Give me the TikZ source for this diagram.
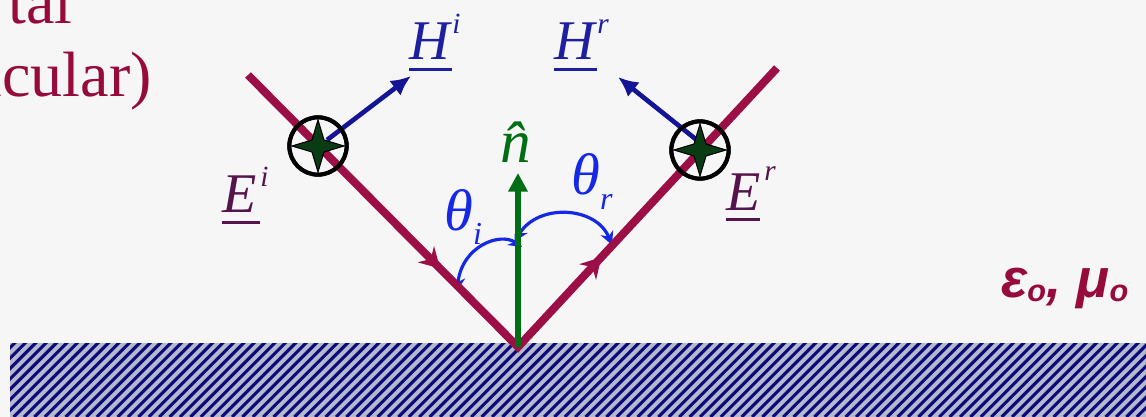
\documentclass[tikz,border=0pt]{standalone}
\usepackage{fontspec}
\setmainfont{Liberation Serif}
\newfontfamily\sansgreek{Liberation Sans}
\usetikzlibrary{arrows.meta,decorations.markings}
\definecolor{bgc}{RGB}{246,246,246}
\definecolor{maroon}{RGB}{155,15,70}
\definecolor{titlec}{RGB}{150,10,60}
\definecolor{navyarrow}{RGB}{20,20,150}
\definecolor{hlab}{RGB}{30,30,160}
\definecolor{thetac}{RGB}{20,40,230}
\definecolor{greenc}{RGB}{0,110,20}
\definecolor{elab}{RGB}{85,20,75}
\definecolor{starc}{RGB}{10,60,20}
\definecolor{hatchbg}{RGB}{182,184,204}
\definecolor{stripec}{RGB}{10,10,125}
\newcommand\myul[1]{\setbox0\hbox{#1}\rlap{\rule[-8pt]{\wd0}{2.2pt}}\box0}
\tikzset{
  titletext/.style={text=titlec, font=\fontsize{48}{52}\selectfont, inner sep=0pt},
  beam/.style={draw=maroon, line width=6pt, line join=miter},
  hvec/.style={draw=navyarrow, line width=3.5pt, -{Latex[length=15pt,width=14pt]}},
  nvec/.style={draw=greenc, line width=3.8pt, -{Triangle[length=14pt,width=14pt]}},
  arcarrow/.style={draw=thetac, line width=2.4pt, {Stealth[length=10pt,width=10pt]}-{Stealth[length=10pt,width=10pt]}},
  ring/.style={circle, draw=black, line width=3pt, minimum size=43pt, inner sep=0pt},
  starfill/.style={fill=starc, draw=black, line width=0.8pt},
  hlabel/.style={text=hlab, font=\fontsize{42}{50}\selectfont\itshape, inner sep=0pt, anchor=base west},
  elabel/.style={text=elab, font=\fontsize{42}{50}\selectfont\itshape, inner sep=0pt, anchor=base west},
  tlabel/.style={text=thetac, font=\fontsize{44}{50}\selectfont\itshape, inner sep=0pt, anchor=base west},
  nlabel/.style={text=greenc, font=\fontsize{46}{50}\selectfont\itshape, inner sep=0pt, anchor=base west},
  medlabel/.style={text=titlec, font=\sansgreek\fontsize{41}{44}\selectfont\bfseries\itshape, inner sep=0pt, anchor=base west},
  stripe/.style={draw=stripec, line width=2.3pt},
  midarrows/.style={postaction={decorate}, decoration={markings,
    mark=at position 0.357 with {\arrow{Stealth[length=15pt,width=17pt,inset=5pt]}},
    mark=at position 0.662 with {\arrow{Stealth[length=15pt,width=17pt,inset=5pt]}}}}
}
\begin{document}
\begin{tikzpicture}[x=0.75pt,y=-0.75pt]
\useasboundingbox (0,0) rectangle (1146,417);
\fill[bgc] (0,0) rectangle (1146,417);

% title fragments (clipped at the page edge)
\begin{scope}
  \clip (0,0) rectangle (1146,417);
  \node[titletext, anchor=base east] (t1) at (73,24) {tal};
  \node[titletext, anchor=base east] (t2) at (152,97) {icular)};
\end{scope}

% hatched boundary
\fill[hatchbg] (10,343) rectangle (1146,417);
\begin{scope}
  \clip (10,343) rectangle (1146,417);
  \foreach \k in {0,...,122} { \draw[stripe] ({10.4*\k-80},417) -- ++(80,-80); }
\end{scope}

% coordinates
\coordinate (O) at (518,347);
\coordinate (Istart) at (248,75);
\coordinate (Rend) at (777,68);
\coordinate (ntip) at (518,173);
\coordinate (Hitip) at (411,76);
\coordinate (Hrtip) at (618,77);
\coordinate (ai1) at (522,247);
\coordinate (ai2) at (457,291);
\coordinate (ar1) at (515,241);
\coordinate (ar2) at (612,245);

% angle arcs
\draw[arcarrow] (ai1) .. controls (500,232) and (462,246) .. (ai2);
\draw[arcarrow] (ar1) .. controls (538,203) and (596,206) .. (ar2);

% beams
\draw[beam, midarrows] (Istart) -- (O) -- (Rend);

% normal
\draw[nvec] (O) -- (ntip);

% field symbols
\node[ring] (ci) at (318,146) {};
\node[ring] (cr) at (700,150) {};
\draw[hvec] ([shift={(9,-6)}]ci.center) -- (Hitip);
\draw[hvec] ([shift={(-2,-9)}]cr.center) -- (Hrtip);
\node[ring] at (ci.center) {};
\node[ring] at (cr.center) {};
\foreach \c in {ci,cr}{
  \filldraw[starfill] ([shift={(0,-26)}]\c.center) -- ([shift={(6,-6)}]\c.center) -- ([shift={(26,0)}]\c.center) -- ([shift={(6,6)}]\c.center) -- ([shift={(0,26)}]\c.center) -- ([shift={(-6,6)}]\c.center) -- ([shift={(-26,0)}]\c.center) -- ([shift={(-6,-6)}]\c.center) -- cycle;
}

% labels
\node[hlabel] (Hi) at (409,60) {\myul{H\kern2pt}\raisebox{20pt}{\fontsize{22}{22}\selectfont i}};
\node[hlabel] (Hr) at (554,60) {\myul{H\kern2pt}\raisebox{20pt}{\fontsize{22}{22}\selectfont r}};
\node[elabel] (Ei) at (222,213) {\myul{E\kern3pt}\raisebox{20pt}{\fontsize{22}{22}\selectfont i}};
\node[elabel] (Er) at (726,210) {\myul{E}\kern3pt\raisebox{22pt}{\fontsize{22}{22}\selectfont r}};
\node[tlabel] (thi) at (444,230) {θ\raisebox{-11pt}{\fontsize{24}{24}\selectfont i}};
\node[tlabel] (thr) at (571,195) {θ\raisebox{-11pt}{\fontsize{24}{24}\selectfont r}};
\node[nlabel] (nh) at (500,163) {\^{n}};
\node[medlabel] (med) at (1001,297) {ε\raisebox{-3pt}{\fontsize{23}{23}\selectfont o}, μ\raisebox{-3pt}{\fontsize{23}{23}\selectfont o}};
\end{tikzpicture}
\end{document}
